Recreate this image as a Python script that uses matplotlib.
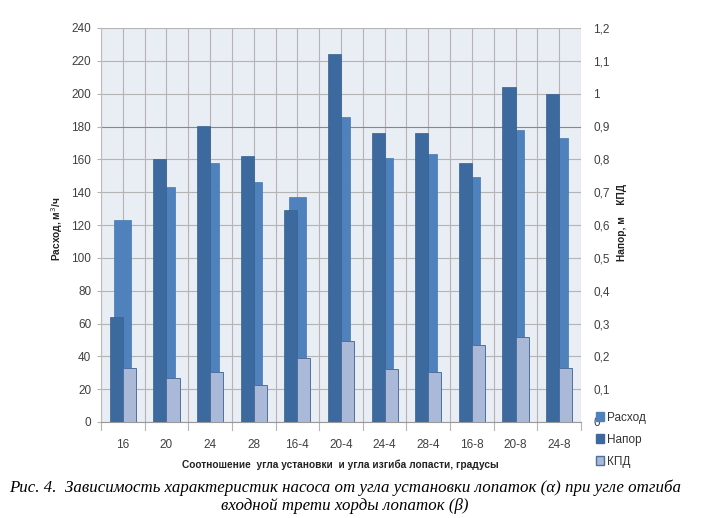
import matplotlib
matplotlib.use("Agg")
import matplotlib.pyplot as plt
from matplotlib.patches import Patch
import numpy as np

categories = ["16", "20", "24", "28", "16-4", "20-4", "24-4", "28-4", "16-8", "20-8", "24-8"]
rashod = [123, 143, 158, 146, 137, 186, 161, 163, 149, 178, 173]        # м3/ч, left axis
napor = [0.32, 0.80, 0.90, 0.81, 0.645, 1.12, 0.88, 0.88, 0.79, 1.02, 1.0]  # right axis
kpd = [0.164, 0.133, 0.153, 0.113, 0.194, 0.246, 0.16, 0.152, 0.234, 0.259, 0.164]

left_ticks = list(range(0, 241, 20))
right_ticks = [i / 10 for i in range(13)]
right_labels = ["0", "0,1", "0,2", "0,3", "0,4", "0,5", "0,6", "0,7", "0,8", "0,9", "1", "1,1", "1,2"]

c_rashod = "#4F81BD"
c_napor = "#3D6A9E"
c_kpd = "#AAB9D8"
bg = "#E9EDF4"
grid = "#B4B4B4"
txt = "#404040"
sans = "Liberation Sans"

fig = plt.figure(figsize=(7.18, 5.18), dpi=100)
ax = fig.add_axes([101 / 718, 1 - 422 / 518, 480 / 718, 394 / 518])
ax.set_facecolor(bg)
x = np.arange(len(categories))

# vertical grid at category centres and boundaries
for xv in np.arange(-0.5, len(categories), 0.5):
    ax.axvline(xv, color=grid, lw=0.8, zorder=0)
for yv in left_ticks:
    ax.axhline(yv, color="#888888" if yv == 180 else grid, lw=0.8, zorder=0)

ax.bar(x, rashod, width=0.39, color=c_rashod, edgecolor="#4577B0", lw=0.5, zorder=2)
ax.set_xlim(-0.5, len(categories) - 0.5)
ax.set_ylim(0, 240)
ax.set_yticks(left_ticks)
ax.set_yticklabels([str(t) for t in left_ticks], fontsize=8.5, color=txt, family=sans)
ax.set_xticks(x)
ax.set_xticklabels(categories, fontsize=8.5, color=txt, family=sans)
ax.tick_params(axis="x", length=0, pad=12)
ax.tick_params(axis="y", length=3, color=grid, pad=4)
for xv in np.arange(-0.5, len(categories) + 0.5, 1):
    ax.plot([xv, xv], [0, -5], color=grid, lw=0.8, clip_on=False)
for s in ax.spines.values():
    s.set_visible(False)
ax.spines["bottom"].set_visible(True)
ax.spines["bottom"].set_color("#999999")
ax.spines["left"].set_visible(True)
ax.spines["left"].set_color("#BBBBBB")

ax2 = ax.twinx()
w = 0.3
ax2.bar(x - w / 2, napor, width=w, color=c_napor, edgecolor="#36608F", lw=0.5, zorder=3)
ax2.bar(x + w / 2, kpd, width=w, color=c_kpd, edgecolor="#4F6F9F", lw=0.7, zorder=3)
ax2.set_ylim(0, 1.2)
ax2.set_yticks(right_ticks)
ax2.set_yticklabels(right_labels, fontsize=8.5, color=txt, family=sans)
ax2.tick_params(axis="y", length=0, pad=9)
for s in ax2.spines.values():
    s.set_visible(False)

fig.text(57 / 718, 1 - 229 / 518, "Расход, м$^3$/ч", rotation=90, ha="center", va="center",
         fontsize=7.3, fontweight="bold", color="#222222", family=sans)
fig.text(622 / 718, 1 - 223 / 518, "Напор, м    КПД", rotation=90, ha="center", va="center",
         fontsize=7.3, fontweight="bold", color="#222222", family=sans)
fig.text(340 / 718, 1 - 465 / 518, "Соотношение  угла установки  и угла изгиба лопасти, градусы",
         ha="center", va="center", fontsize=7.3, fontweight="bold", color="#222222", family=sans)

handles = [Patch(facecolor=c_rashod, edgecolor=c_rashod),
           Patch(facecolor=c_napor, edgecolor=c_napor),
           Patch(facecolor=c_kpd, edgecolor="#4F6F9F")]
fig.legend(handles, ["Расход", "Напор", "КПД"], loc="upper left",
           bbox_to_anchor=(585 / 718, 1 - 401 / 518), frameon=False,
           prop={"family": sans, "size": 8.5},
           handlelength=0.7, handleheight=0.7, handletextpad=0.3, labelspacing=0.85,
           labelcolor="#333333")

fig.text(345 / 718, 1 - 488 / 518,
         "Рис. 4.  Зависимость характеристик насоса от угла установки лопаток (α) при угле отгиба",
         ha="center", va="center", fontsize=12.2, style="italic", family="Liberation Serif")
fig.text(345 / 718, 1 - 506 / 518, "входной трети хорды лопаток (β)",
         ha="center", va="center", fontsize=12.2, style="italic", family="Liberation Serif")

fig.savefig("out.png", dpi=100)
